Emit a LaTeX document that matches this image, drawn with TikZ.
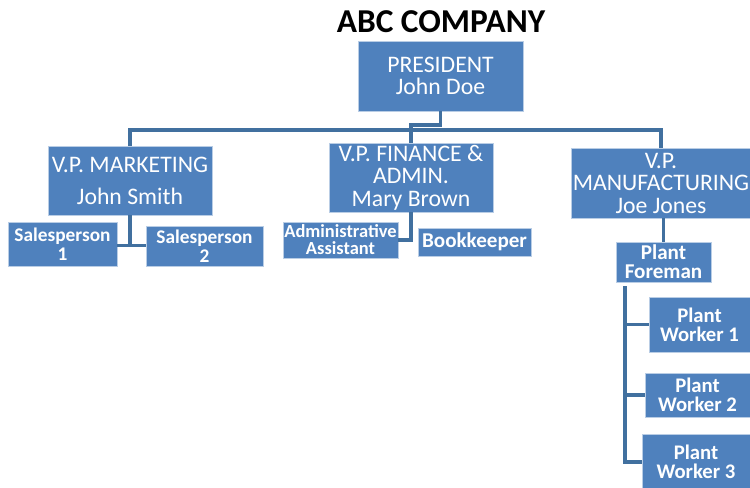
\documentclass[tikz,border=0pt]{standalone}
\usepackage{fontspec}
\setmainfont{Carlito}
\definecolor{boxblue}{HTML}{4F81BD}
\definecolor{boxedge}{HTML}{B9CDE5}
\definecolor{linkblue}{HTML}{41709F}
\begin{document}
\begin{tikzpicture}[x=0.02cm,y=-0.02cm,
    box/.style={fill=boxblue,draw=boxedge,line width=0.5pt,text=white,
      align=center,inner sep=0pt,font=\fontsize{13.5}{12.8}\selectfont},
    small/.style={box,font=\bfseries\fontsize{11}{10.8}\selectfont},
    link/.style={draw=linkblue,line width=2.2pt}]
  \useasboundingbox (0,0) rectangle (750,487);
  \node[font=\bfseries\fontsize{19}{20}\selectfont] (title) at (441,22) {ABC COMPANY};
  % top
  \node[box,minimum width=3.3cm,minimum height=1.4cm] (pres) at (440.5,76) {PRESIDENT\\John Doe};
  \node[box,minimum width=3.28cm,minimum height=1.38cm] (mkt) at (130,180.5) {V.P. MARKETING\\[5.5pt]John Smith};
  \node[box,minimum width=3.28cm,minimum height=1.38cm] (fin) at (411,177.5) {V.P. FINANCE \&\\ADMIN.\\Mary Brown};
  \node[box,minimum width=3.6cm,minimum height=1.4cm] (mfg) at (661,183) {V.P.\\MANUFACTURING\\Joe Jones};
  % second row
  \node[small,minimum width=2.18cm,minimum height=0.88cm] (sp1) at (62.5,244) {Salesperson\\1};
  \node[small,minimum width=2.34cm,minimum height=0.8cm] (sp2) at (204.5,246) {Salesperson\\2};
  \node[small,minimum width=2.3cm,minimum height=0.72cm,font=\bfseries\fontsize{10.5}{9.6}\selectfont] (aa) at (340.5,240) {Administrative\\Assistant};
  \node[small,minimum width=2.26cm,minimum height=0.56cm,font=\bfseries\fontsize{12}{12}\selectfont] (bk) at (474.5,242) {Bookkeeper};
  \node[small,minimum width=1.9cm,minimum height=0.8cm,font=\bfseries\fontsize{12}{10.8}\selectfont] (fore) at (663.5,262) {Plant\\Foreman};
  % workers
  \node[small,minimum width=2.02cm,minimum height=1.1cm,font=\bfseries\fontsize{11.8}{10.8}\selectfont] (w1) at (699.5,324.5) {Plant\\Worker 1};
  \node[small,minimum width=2.1cm,minimum height=0.88cm,font=\bfseries\fontsize{11.8}{10.8}\selectfont] (w2) at (697.5,395) {Plant\\Worker 2};
  \node[small,minimum width=2.16cm,minimum height=1.1cm,font=\bfseries\fontsize{11.8}{10.8}\selectfont] (w3) at (696,462) {Plant\\Worker 3};
  % connectors
  \draw[link] (mkt.north) -- ++(0,-16) -| (mfg.north);
  \draw[link] (fin.north) -- ++(0,-18) -| (pres.south);
  \draw[link] (mkt.south) -- ++(0,30) coordinate (mkj);
  \draw[link] (sp1.east |- mkj) -- (sp2.west |- mkj);
  \draw[link] (fin.south) |- (aa.east);
  \draw[link] (fore.north) -- (fore.north |- mfg.south);
  \coordinate (trunk) at (625,286);
  \draw[link] (trunk) |- (w3.west);
  \draw[link] (trunk) |- (w1.west);
  \draw[link] (trunk) |- (w2.west);
\end{tikzpicture}
\end{document}
